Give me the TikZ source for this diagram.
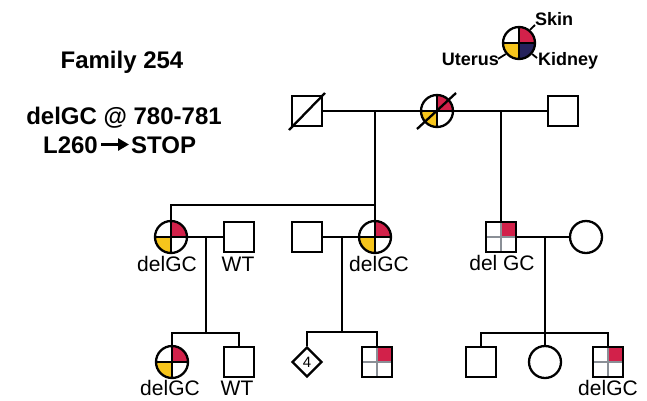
\documentclass[tikz,border=0pt]{standalone}
\usepackage{fontspec}
\setmainfont{Liberation Sans}
\usetikzlibrary{calc,shapes.geometric,arrows.meta}
\definecolor{pedred}{HTML}{D2214A}
\definecolor{pedyel}{HTML}{F6C51C}
\definecolor{pednavy}{HTML}{25225C}
\definecolor{gridgrey}{HTML}{8A8F96}
\tikzset{
  ind/.style={draw, line width=2.3pt, inner sep=0pt},
  male/.style={ind, rectangle, minimum size=30pt},
  female/.style={ind, circle, minimum size=32pt},
  unknown/.style={ind, diamond, minimum width=30pt, minimum height=30pt, font=\fontsize{15}{15}\selectfont},
  quads/.style n args={5}{path picture={
    \fill[#1] (path picture bounding box.center) rectangle (path picture bounding box.north east);
    \fill[#2] (path picture bounding box.center) rectangle (path picture bounding box.south east);
    \fill[#3] (path picture bounding box.center) rectangle (path picture bounding box.south west);
    \fill[#4] (path picture bounding box.center) rectangle (path picture bounding box.north west);
    \draw[#5] (path picture bounding box.north) -- (path picture bounding box.south)
              (path picture bounding box.west) -- (path picture bounding box.east);}},
  link/.style={line width=2.3pt},
  slash/.style={line width=2.3pt},
  tick/.style={line width=1.8pt},
  lbl/.style={font=\fontsize{21}{21}\selectfont, inner sep=0pt},
  title/.style={font=\fontsize{24}{24}\selectfont\bfseries, inner sep=0pt, anchor=base},
  keylbl/.style={font=\fontsize{18}{18}\selectfont\bfseries, inner sep=0pt},
  bigarrow/.style={line width=2.6pt, -{Triangle[length=11pt,width=12pt]}},
}
\begin{document}
\begin{tikzpicture}[x=1pt,y=-1pt]
\useasboundingbox (0,0) rectangle (647,400);

% titles
\node[title] (t1) at (122,68) {Family 254};
\node[title] (t2) at (124,124) {delGC @ 780-781};
\node[title, anchor=base east] (t3a) at (98,153) {L260};
\node[title, anchor=base west] (t3b) at (131,153) {STOP};
\draw[bigarrow] ($(t3a.base east)+(3,-8.5)$) -- ($(t3b.base west)+(-2,-8.5)$);

% key
\node[female, quads={pedred}{pednavy}{pedyel}{white}{line width=1.6pt}] (leg) at (519,43) {};
\node[keylbl, anchor=base west] (skin) at (535,25) {Skin};
\node[keylbl, anchor=base east] (uterus) at (499,65) {Uterus};
\node[keylbl, anchor=base west] (kidney) at (538,65) {Kidney};
\draw[tick] (leg.50) -- (skin.base west);
\draw[tick] (leg.220) -- ($(uterus.east)+(-1,0)$);
\draw[tick] (leg.-40) -- ($(kidney.base west)+(-1,-7)$);

% generation I
\node[male] (I1) at (307,111) {};
\node[female, quads={pedred}{white}{pedyel}{white}{line width=1.4pt}] (I2) at (437,111) {};
\node[male] (I3) at (563,111) {};
\draw[slash] ($(I1.center)+(-18,19)$) -- ($(I1.center)+(18,-18)$);
\draw[slash] ($(I2.center)+(-20,18)$) -- ($(I2.center)+(19,-18)$);
\draw[link] (I1) -- (I2);
\draw[link] (I2) -- (I3);
\coordinate (m1) at (375,111);
\coordinate (m4) at (501,111);

% generation II
\node[female, quads={pedred}{white}{pedyel}{white}{line width=1.4pt}] (II1) at (171,237) {};
\node[male] (II2) at (239,237) {};
\node[male] (II3) at (307,237) {};
\node[female, quads={pedred}{white}{pedyel}{white}{line width=1.4pt}] (II4) at (375,237) {};
\node[male, quads={pedred}{white}{white}{white}{gridgrey, line width=1.2pt}] (II5) at (501,237) {};
\node[female] (II6) at (586,237) {};

\node[lbl] (l1) at (167,264) {delGC};
\node[lbl] (l2) at (238,264) {WT};
\node[lbl] (l3) at (379,264) {delGC};
\node[lbl] (l4) at (502,263) {del GC};

\coordinate (s1) at (375,205);
\draw[link] (m1) -- (II4.north);
\draw[link] (II1.north) |- (s1);
\draw[link] (m4) -- (II5.north);
\draw[link] (II1) -- (II2);
\draw[link] (II3) -- (II4);
\draw[link] (II5) -- (II6);
\coordinate (m2) at (206,237);
\coordinate (m3) at (342,237);
\coordinate (m5) at (545,237);

% generation III
\node[female, quads={pedred}{white}{pedyel}{white}{line width=1.4pt}] (III1) at (172,362) {};
\node[male] (III2) at (239,362) {};
\node[unknown] (III3) at (307,362) {4};
\node[male, quads={pedred}{white}{white}{white}{gridgrey, line width=1.2pt}] (III4) at (377,362) {};
\node[male] (III5) at (481,362) {};
\node[female] (III6) at (545,362) {};
\node[male, quads={pedred}{white}{white}{white}{gridgrey, line width=1.2pt}] (III7) at (608,362) {};

\node[lbl] (l5) at (170,388) {delGC};
\node[lbl] (l6) at (237,388) {WT};
\node[lbl] (l7) at (608,388) {delGC};

\coordinate (s2) at (206,333);
\coordinate (s3) at (342,332);
\coordinate (s5) at (545,333);
\draw[link] (m2) -- (s2);
\draw[link] (III1.north) |- (s2) -| (III2.north);
\draw[link] (m3) -- (s3);
\draw[link] (III3.north) |- (s3) -| (III4.north);
\draw[link] (m5) -- (III6.north);
\draw[link] (III5.north) |- (s5) -| (III7.north);
\end{tikzpicture}
\end{document}
